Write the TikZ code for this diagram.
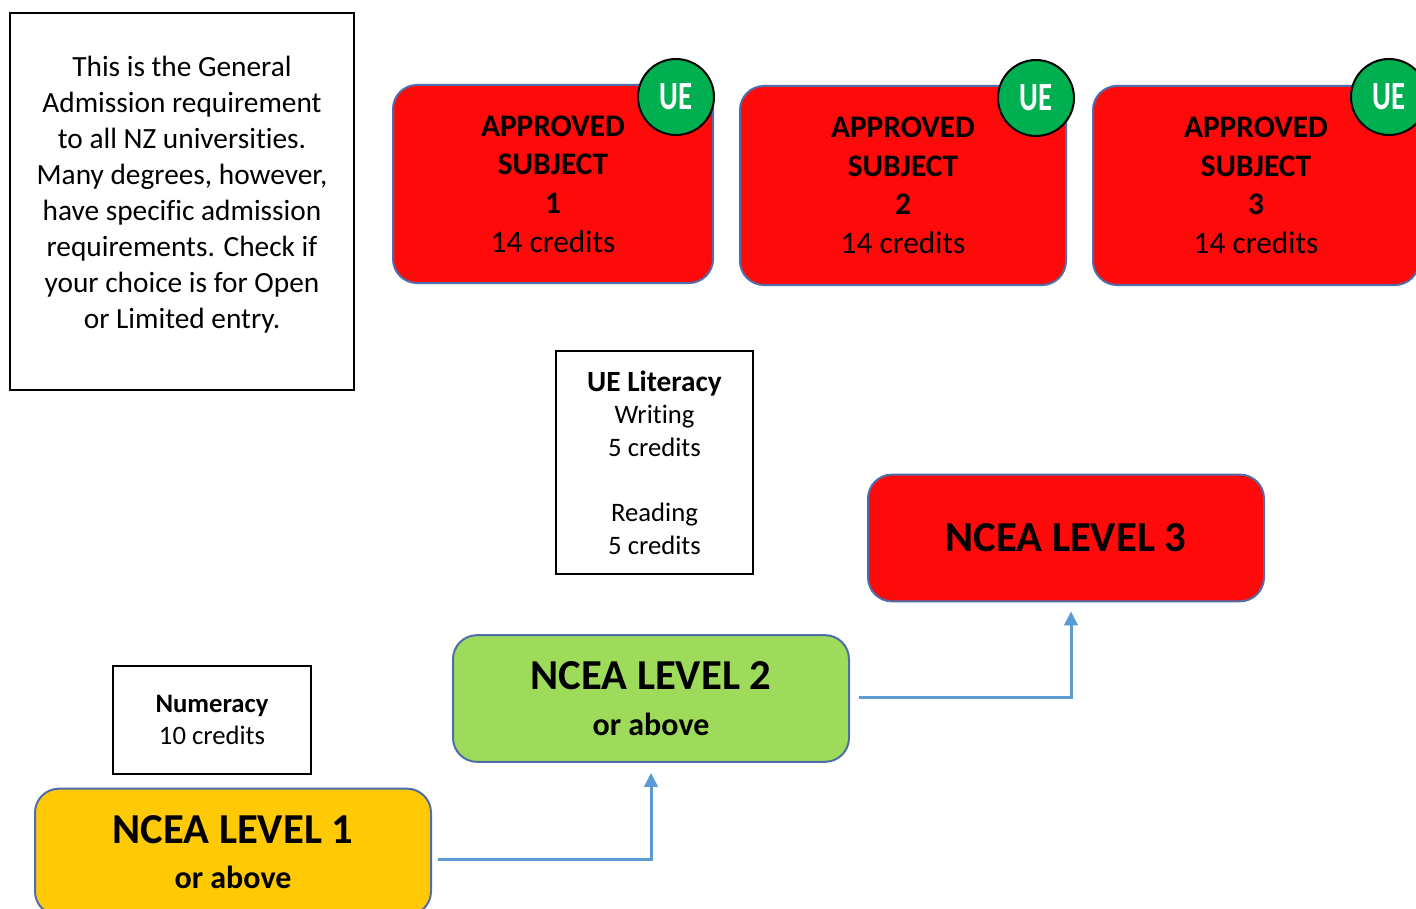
\documentclass[tikz,border=0pt]{standalone}
\usepackage{fontspec}
\usepackage{graphicx}
\setmainfont[Ligatures=NoCommon]{Carlito}
\usetikzlibrary{positioning, arrows.meta}
\definecolor{subjred}{HTML}{FF0A0A}
\definecolor{uegreen}{HTML}{00B050}
\definecolor{lvltwo}{HTML}{9EDB5A}
\definecolor{lvlone}{HTML}{FFC905}
\definecolor{rimblue}{HTML}{4F6DA8}
\definecolor{flowblue}{HTML}{5B9BD5}

\begin{document}
\begin{tikzpicture}[x=0.75pt, y=-0.75pt,
	rim/.style={draw=rimblue, line width=1.5pt, rounded corners=18pt, align=center},
	plain/.style={draw, line width=0.8pt, align=center, fill=white},
	subj/.style={rim, fill=subjred, minimum width=244.5pt, minimum height=149.25pt, font=\fontsize{23.5}{29}\selectfont},
	ncea/.style={rim, minimum width=297pt, minimum height=95pt, font=\bfseries\fontsize{32}{34}\selectfont},
	badge/.style={circle, draw, line width=1.5pt, fill=uegreen, text=white, minimum size=57pt, inner sep=0pt, font=\bfseries\fontsize{30}{30}\selectfont},
	flow/.style={draw=flowblue, line width=2.25pt, -{Triangle[length=10.5pt, width=10pt]}}]
	\useasboundingbox (0,0) rectangle (1416,909);

	\node[plain, minimum width=258pt, minimum height=282.75pt, font=\fontsize{22}{27}\selectfont]  (info)  at (182,201.5)
		{This is the General\\Admission requirement\\to all NZ universities.\\Many degrees, however,\\have specific admission\\requirements. Check if\\your choice is for Open\\or Limited entry.\\[-13.5pt]};

	\node[subj, minimum width=240pt, minimum height=148.5pt]  (s1)  at (553,184)    {\textbf{APPROVED}\\\textbf{SUBJECT}\\\textbf{1}\\14 credits};
	\node[subj]  (s2)  at (903,185.5)   {\textbf{APPROVED}\\\textbf{SUBJECT}\\\textbf{2}\\14 credits};
	\node[subj]  (s3)  at (1256,185.5)  {\textbf{APPROVED}\\\textbf{SUBJECT}\\\textbf{3}\\14 credits};
	\node[badge]  (ue1)  at ([shift={(-38,13)}]s1.north east)  {\scalebox{0.72}[1]{UE}};
	\node[badge]  (ue2)  at ([shift={(-31,13)}]s2.north east)  {\scalebox{0.72}[1]{UE}};
	\node[badge]  (ue3)  at ([shift={(-31,12)}]s3.north east)  {\scalebox{0.72}[1]{UE}};

	\node[plain, minimum width=147.75pt, minimum height=167.25pt, font=\fontsize{20}{24.5}\selectfont]  (lit)  at (654.5,462.5)
		{{\bfseries\fontsize{22}{26}\selectfont UE Literacy}\\Writing\\5 credits\\[24.5pt]Reading\\5 credits};
	\node[plain, minimum width=148.5pt, minimum height=81pt, font=\fontsize{20}{24.5}\selectfont]  (num)  at (212,720)
		{\textbf{Numeracy}\\10 credits};

	\node[ncea, fill=subjred]  (lvl3)  at (1066,538)   {NCEA LEVEL 3};
	\node[ncea, fill=lvltwo]   (lvl2)  at (651,698.5)  {NCEA LEVEL 2\\{\fontsize{24}{34}\selectfont or above}};
	\node[ncea, fill=lvlone]   (lvl1)  at (233,852)    {NCEA LEVEL 1\\{\fontsize{24}{34}\selectfont or above}};

	\draw[flow] ([shift={(6,7)}]lvl1.east) -| ([yshift=-10*0.75pt]lvl2.south);
	\draw[flow] ([shift={(9,-1.5)}]lvl2.east) -| ([shift={(5,9)}]lvl3.south);
\end{tikzpicture}
\end{document}
